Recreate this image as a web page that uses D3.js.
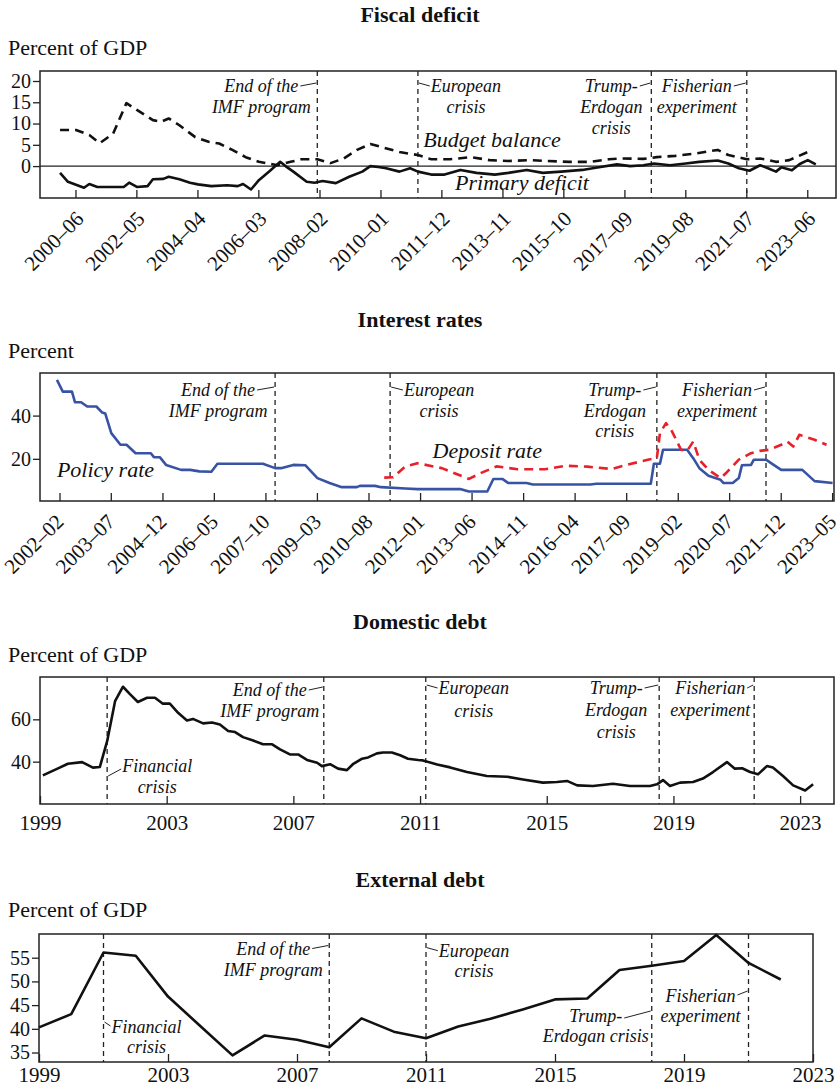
<!DOCTYPE html>
<html>
<head>
<meta charset="utf-8">
<script src="https://cdn.jsdelivr.net/npm/d3@7"></script>
<style>
  body { margin: 0; background: #fff; }
  text { font-family: "Liberation Serif", "Times New Roman", serif; fill: #111; }
</style>
</head>
<body>
<div id="chart"></div>
<script>
// ---- data ----
// fiscal deficit (percent of GDP)
let fiscalTicks = ["2000–06","2002–05","2004–04","2006–03","2008–02","2010–01","2011–12","2013–11","2015–10","2017–09","2019–08","2021–07","2023–06"];
let budgetDates = ["1999-12","2000-06","2000-11","2001-03","2001-08","2002-01","2002-05","2002-11","2003-02","2003-05","2003-09","2004-03","2004-08","2004-12","2005-05","2005-10","2006-03","2006-10","2007-03","2007-07","2008-01","2008-06","2008-11","2009-04","2009-09","2010-01","2010-08","2011-03","2011-08","2012-03","2012-11","2013-06","2014-01","2014-09","2015-04","2015-12","2016-08","2017-03","2017-08","2018-04","2018-09","2019-04","2019-12","2020-08","2020-12","2021-07","2021-12","2022-06","2022-11","2023-06"];
let budgetValues = [8.5,8.5,7.3,5.4,7.6,14.8,13.2,10.8,10.4,11.2,9.6,6.8,5.7,5.3,3.8,2.1,1.0,0.2,1.0,1.6,1.6,0.7,1.8,3.8,5.2,4.5,3.3,2.6,1.6,1.6,2.1,1.4,1.2,1.4,1.2,1.0,1.0,1.6,1.8,1.7,2.1,2.4,3.0,3.8,2.6,1.6,1.8,1.0,1.4,3.3];
let primaryDates = ["1999-12","2000-03","2000-09","2000-11","2001-02","2001-07","2001-12","2002-02","2002-05","2002-09","2002-11","2003-03","2003-05","2003-09","2004-01","2004-04","2004-09","2005-03","2005-07","2005-09","2005-12","2006-03","2006-07","2006-11","2007-01","2007-04","2007-09","2007-12","2008-03","2008-08","2009-01","2009-06","2009-09","2009-12","2010-03","2010-08","2010-12","2011-03","2011-08","2012-01","2012-07","2013-01","2013-08","2014-01","2014-08","2015-02","2015-09","2016-05","2016-10","2017-06","2017-11","2018-04","2018-08","2019-02","2019-08","2020-01","2020-08","2020-12","2021-04","2021-08","2021-12","2022-03","2022-06","2022-08","2022-12","2023-03","2023-06","2023-09"];
let primaryValues = [-1.6,-3.7,-5.1,-4.2,-4.9,-4.9,-4.9,-3.9,-4.9,-4.7,-3.1,-3.0,-2.5,-3.1,-3.9,-4.3,-4.7,-4.5,-4.7,-4.2,-5.5,-3.3,-1.2,1.0,0,-1.3,-3.7,-3.9,-3.5,-4.0,-2.5,-1.3,0,-0.2,-0.5,-1.3,-0.5,-1.3,-2.0,-2.0,-0.9,-1.6,-2.0,-1.6,-0.9,-1.6,-1.3,-0.9,-0.4,0.4,0,0.2,0.6,0.2,0.6,1.0,1.3,0.6,-0.5,-1.1,0.2,-0.5,-1.3,-0.3,-1.0,0.5,1.4,0.4];

// interest rates (percent)
let rateTicks = ["2002–02","2003–07","2004–12","2006–05","2007–10","2009–03","2010–08","2012–01","2013–06","2014–11","2016–04","2017–09","2019–02","2020–07","2021–12","2023–05"];
let policyDates = ["2002-01","2002-03","2002-06","2002-07","2002-09","2002-11","2003-02","2003-04","2003-05","2003-07","2003-10","2003-12","2004-03","2004-08","2004-09","2004-11","2005-01","2005-06","2005-09","2005-12","2006-04","2006-06","2007-09","2008-01","2008-03","2008-07","2008-11","2009-03","2009-07","2009-11","2010-04","2010-05","2010-10","2010-12","2011-08","2011-12","2013-02","2013-05","2013-11","2014-01","2014-04","2014-06","2014-12","2015-02","2016-09","2016-11","2018-05","2018-06","2018-08","2018-09","2019-05","2019-07","2019-09","2019-12","2020-04","2020-05","2020-08","2020-10","2020-11","2021-02","2021-03","2021-07","2021-09","2021-12","2022-07","2022-11","2023-05"];
let policyValues = [56.5,51.1,51.1,46.2,46.2,44.2,44.2,41.4,41,31.9,26.5,26.5,22.6,22.6,20.8,20.7,17.2,14.9,14.9,14.2,14,17.7,17.7,15.7,15.7,17.2,17,11.1,8.8,6.9,6.9,7.5,7.5,6.9,6.3,6.0,6.0,4.9,4.9,10.7,10.7,8.8,8.8,8.1,8.1,8.5,8.5,17.7,17.7,24.2,24.2,20.3,15.7,12.2,10.3,8.8,8.8,11.1,17,17.2,19.6,19.6,17.7,14.9,14.9,9.7,8.8];
let depositDates = ["2011-01","2011-04","2011-08","2011-12","2012-08","2013-05","2013-09","2014-02","2014-09","2015-06","2016-01","2016-08","2017-04","2017-09","2018-04","2018-07","2018-08","2018-10","2018-12","2019-03","2019-05","2019-07","2019-09","2019-12","2020-04","2020-06","2020-10","2021-02","2021-05","2021-08","2021-12","2022-02","2022-04","2022-06","2022-11","2023-03"];
let depositValues = [11.3,11.5,16.5,18.0,15.7,10.7,13.5,16.5,15.2,15.2,16.8,16.4,15.3,17.2,19.6,20.4,31.9,36.5,32.6,24.2,23.7,28.0,19.6,14.9,11.1,13.7,19.6,22.6,23.7,24.2,26.5,28.0,25.7,31.1,28.8,26.5];

// domestic debt (percent of GDP, quarterly-ish, decimal years)
let yearTicks = [1999,2003,2007,2011,2015,2019,2023];
let domDebtYears = [1999.09,1999.57,1999.88,2000.33,2000.67,2000.89,2001.12,2001.37,2001.62,2001.84,2002.09,2002.38,2002.63,2002.88,2003.1,2003.36,2003.64,2003.83,2004.15,2004.43,2004.68,2004.94,2005.16,2005.41,2005.73,2006.04,2006.33,2006.58,2006.89,2007.15,2007.43,2007.75,2007.9,2008.16,2008.41,2008.69,2008.88,2009.17,2009.36,2009.64,2009.83,2010.11,2010.37,2010.62,2010.94,2011.09,2011.54,2011.95,2012.48,2013.11,2013.75,2014.25,2014.88,2015.32,2015.64,2015.96,2016.46,2017.09,2017.63,2018.26,2018.48,2018.67,2018.89,2019.21,2019.62,2019.93,2020.25,2020.69,2020.94,2021.17,2021.42,2021.67,2021.95,2022.14,2022.46,2022.78,2023.16,2023.41];
let domDebtValues = [33.5,36.8,39.0,39.8,37.2,37.5,49.7,68.6,75.4,71.9,68.2,70.2,70.2,67.4,67.4,63.1,59.5,60.2,58.1,58.5,57.6,54.5,54.0,51.6,50.0,48.2,48.2,45.8,43.4,43.4,40.8,39.5,37.9,38.8,36.7,36.0,38.8,41.4,42.0,43.9,44.3,44.3,43.0,41.4,40.8,40.6,38.7,37.3,35.1,33.2,32.9,31.6,30.1,30.4,30.9,28.8,28.5,29.6,28.5,28.5,29.3,31.3,28.5,30.1,30.4,32.0,35.1,39.8,36.7,36.9,35.1,34.0,37.9,37.2,33.2,28.8,26.4,29.3];

// external debt (percent of GDP, annual)
let extDebtYears = [1999,2000,2001,2002,2003,2004,2005,2006,2007,2008,2009,2010,2011,2012,2013,2014,2015,2016,2017,2018,2019,2020,2021,2022];
let extDebtValues = [40.3,43.1,56.1,55.4,46.8,40.6,34.4,38.6,37.7,36.1,42.2,39.4,38.0,40.5,42.1,44.1,46.2,46.4,52.4,53.3,54.3,59.8,53.9,50.4];

// event lines
let monthEvents = ["2008-01","2011-03","2018-07","2021-07"];
let domEvents = [2001.12,2007.96,2011.18,2018.55,2021.55];
let extEvents = [2001,2008,2011,2018,2021];

// ---- drawing ----
let w = 840;
let h = 1091;
let serif = '"Liberation Serif", "Times New Roman", serif';
let parseMonth = d3.timeParse("%Y-%m");
let parseTick = s => parseMonth(s.replace("–","-"));

let svg = d3.select("#chart").append("svg")
              .attr("width", w)
              .attr("height", h);

function header(title, unit, ty, uy){
  svg.append("text").attr("x", 420).attr("y", ty)
     .attr("text-anchor","middle").attr("font-weight","bold").attr("font-size",22)
     .text(title);
  svg.append("text").attr("x", 8).attr("y", uy).attr("font-size",22).text(unit);
}

function frame(x, y, ticks){
  let [l, r] = x.range();
  let [b, t] = y.range();
  let g = svg.append("g");
  g.append("rect").attr("x", l).attr("y", t).attr("width", r - l).attr("height", b - t)
    .attr("fill","none").attr("stroke","#222").attr("stroke-width",1.5);
  let ax = g.append("g").attr("transform", "translate(" + l + ",0)")
    .call(d3.axisLeft(y).tickValues(ticks).tickSize(7).tickPadding(2).tickFormat(d3.format("d")));
  ax.select(".domain").remove();
  ax.attr("font-family", serif).attr("font-size", 20);
  ax.selectAll("line").attr("stroke","#222").attr("stroke-width",1.3);
  ax.selectAll("text").attr("fill","#111");
  return g;
}

function monthAxis(g, x, y, labels, shift){
  let b = y.range()[0];
  g.selectAll("line.xt").data(labels).enter().append("line")
    .attr("x1", d => x(parseTick(d))).attr("x2", d => x(parseTick(d)))
    .attr("y1", b).attr("y2", b - 8)
    .attr("stroke","#222").attr("stroke-width",1.3);
  g.selectAll("text.xl").data(labels).enter().append("text")
    .attr("transform", d => "translate(" + (x(parseTick(d)) + shift) + "," + (b + 22) + ") rotate(-45)")
    .attr("text-anchor","end").attr("font-size",21)
    .text(d => d);
}

function yearAxis(g, x, y, labels, pad){
  let b = y.range()[0];
  let ax = g.append("g").attr("transform","translate(0," + b + ")")
    .call(d3.axisBottom(x).tickValues(labels).tickSize(-8).tickPadding(pad).tickFormat(d3.format("d")));
  ax.select(".domain").remove();
  ax.attr("font-family", serif).attr("font-size", 21);
  ax.selectAll("line").attr("stroke","#222").attr("stroke-width",1.3);
  ax.selectAll("text").attr("fill","#111");
}

function events(g, x, y, dates, specs){
  let [b, t] = y.range();
  dates.forEach((d, i) => {
    let lx = x(d);
    g.append("line").attr("x1", lx).attr("x2", lx).attr("y1", t).attr("y2", b)
      .attr("stroke","#222").attr("stroke-width",1.3).attr("stroke-dasharray","5,4");
    let s = specs[i];
    let base = t + s.y;
    let first = null;
    s.lines.forEach((line, k) => {
      let tx = g.append("text").attr("x", lx + s.dx).attr("y", base + k * s.gap)
        .attr("text-anchor","middle").attr("font-style","italic").attr("font-size",18)
        .text(line);
      if(k == 0) first = tx;
    });
    let half = first.node().getComputedTextLength() / 2;
    let la = s.la === undefined ? -6 : s.la;
    let lb = s.lb === undefined ? -9 : s.lb;
    let x1, x2;
    if(s.dx < 0){
      x1 = lx + s.dx + half + 2; x2 = lx - 1;
    } else {
      x1 = lx + s.dx - half - 1; x2 = lx + 1;
    }
    g.append("line").attr("x1", x1).attr("y1", base + la).attr("x2", x2).attr("y2", base + lb)
      .attr("stroke","#222").attr("stroke-width",1);
  });
}

function series(g, x, y, xs, vs, color, dash){
  let data = d3.zip(xs, vs);
  let line = d3.line().x(d => x(d[0])).y(d => y(d[1]));
  let p = g.append("path").datum(data).attr("d", line)
    .attr("fill","none").attr("stroke", color).attr("stroke-width",2.6)
    .attr("stroke-linejoin","round");
  if(dash) p.attr("stroke-dasharray", dash);
}

function seriesLabel(g, x, y, text){
  g.append("text").attr("x", x).attr("y", y)
    .attr("font-style","italic").attr("font-size",22).text(text);
}

let imf = ["End of the","IMF program"];
let euro = ["European","crisis"];
let trump = ["Trump-","Erdogan","crisis"];
let fisher = ["Fisherian","experiment"];
let fin = ["Financial","crisis"];

// panel 1: fiscal deficit
header("Fiscal deficit", "Percent of GDP", 22, 55);
let x1 = d3.scaleTime().domain([new Date(1999,3,15), new Date(2024,3,20)]).range([40,836]);
let y1 = d3.scaleLinear().domain([-7.5, 22.35]).range([198, 71]);
let g1 = frame(x1, y1, [0,5,10,15,20]);
monthAxis(g1, x1, y1, fiscalTicks, 9);
g1.append("line").attr("x1",40).attr("x2",836).attr("y1",y1(0)).attr("y2",y1(0))
  .attr("stroke","#222").attr("stroke-width",1.3);
events(g1, x1, y1, monthEvents.map(parseMonth), [
  {lines: imf, dx: -56, y: 21, gap: 21},
  {lines: euro, dx: 48, y: 21, gap: 21},
  {lines: trump, dx: -40, y: 21, gap: 21},
  {lines: fisher, dx: -50, y: 21, gap: 21}
]);
series(g1, x1, y1, budgetDates.map(parseMonth), budgetValues, "#111", "9,6");
series(g1, x1, y1, primaryDates.map(parseMonth), primaryValues, "#111", null);
seriesLabel(g1, x1(parseMonth("2011-05")), y1(4.5), "Budget balance");
seriesLabel(g1, x1(parseMonth("2012-05")), y1(-5.6), "Primary deficit");

// panel 2: interest rates
header("Interest rates", "Percent", 327, 358);
let x2 = d3.scaleTime().domain([new Date(2001,6,15), new Date(2023,4,15)]).range([40,834]);
let y2 = d3.scaleLinear().domain([0.5, 59.7]).range([501, 373]);
let g2 = frame(x2, y2, [20,40]);
monthAxis(g2, x2, y2, rateTicks, 5);
events(g2, x2, y2, monthEvents.map(parseMonth), [
  {lines: imf, dx: -57, y: 23, gap: 20.5},
  {lines: euro, dx: 49, y: 23, gap: 20.5},
  {lines: trump, dx: -42, y: 23, gap: 20.5},
  {lines: fisher, dx: -49, y: 23, gap: 20.5}
]);
series(g2, x2, y2, policyDates.map(parseMonth), policyValues, "#3953a4", null);
series(g2, x2, y2, depositDates.map(parseMonth), depositValues, "#e8202a", "9,6");
seriesLabel(g2, x2(parseMonth("2012-05")), y2(20.5), "Deposit rate");
seriesLabel(g2, x2(parseMonth("2002-01")), y2(11.7), "Policy rate");

// panel 3: domestic debt
header("Domestic debt", "Percent of GDP", 629, 662);
let x3 = d3.scaleLinear().domain([1999, 2024.07]).range([40,834]);
let y3 = d3.scaleLinear().domain([20, 80]).range([804, 677]);
let g3 = frame(x3, y3, [40,60]);
yearAxis(g3, x3, y3, yearTicks, 11);
events(g3, x3, y3, domEvents, [
  {lines: fin, dx: 50, y: 95, gap: 21, la: -3, lb: 4},
  {lines: imf, dx: -54, y: 19, gap: 21},
  {lines: euro, dx: 48, y: 17, gap: 23},
  {lines: trump, dx: -43, y: 17, gap: 22},
  {lines: fisher, dx: -44, y: 17, gap: 22}
]);
series(g3, x3, y3, domDebtYears, domDebtValues, "#111", null);

// panel 4: external debt
header("External debt", "Percent of GDP", 887, 917);
let x4 = d3.scaleLinear().domain([1999, 2023]).range([39,813]);
let y4 = d3.scaleLinear().domain([33, 60]).range([1062, 934]);
let g4 = frame(x4, y4, [35,40,45,50,55]);
yearAxis(g4, x4, y4, yearTicks, 5);
events(g4, x4, y4, extEvents, [
  {lines: fin, dx: 43, y: 99, gap: 20, la: -7, lb: -11},
  {lines: imf, dx: -56, y: 20.5, gap: 21},
  {lines: euro, dx: 48, y: 22.7, gap: 20},
  {lines: ["Trump-","Erdogan crisis"], dx: -56, y: 88, gap: 20, la: -4, lb: -11},
  {lines: fisher, dx: -48, y: 68, gap: 20, la: -7, lb: -11}
]);
series(g4, x4, y4, extDebtYears, extDebtValues, "#111", null);
</script>
</body>
</html>
